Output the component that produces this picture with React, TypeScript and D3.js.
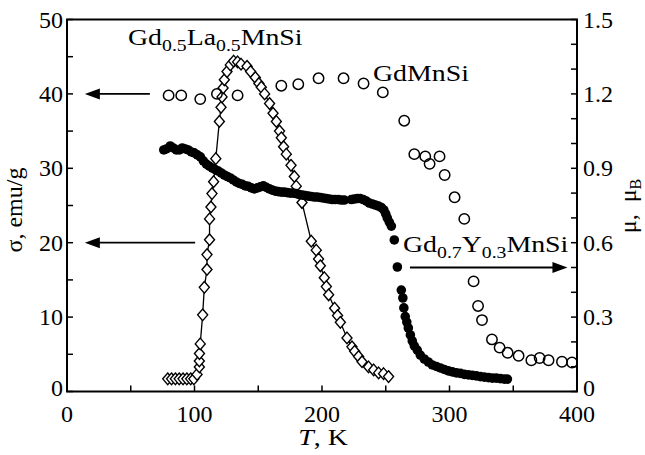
import React from "react";
import * as d3 from "d3";

// GdMnSi (open circles, left axis σ, emu/g)
const gdMnSi: [number, number][] = [
  [79.7, 39.8], [89.6, 39.8], [104.5, 39.3], [117.6, 40.0], [133.8, 39.8],
  [168.1, 41.1], [181.4, 41.3], [197.3, 42.1], [216.9, 42.1], [232.6, 41.4],
  [247.7, 40.2], [264.5, 36.4], [272.4, 31.9], [281.0, 31.6], [284.4, 30.6],
  [292.2, 31.6], [296.2, 29.1], [304.0, 26.1], [311.6, 23.2], [318.9, 14.8],
  [322.4, 11.5], [325.5, 9.6], [333.3, 7.0], [339.3, 5.9], [345.6, 5.2],
  [354.2, 4.8], [364.2, 4.2], [370.7, 4.5], [377.7, 4.2], [388.2, 4.0],
  [396.1, 3.9],
];

// Gd0.5La0.5MnSi (open diamonds joined by a line, left axis σ, emu/g)
const gdLaMnSi: [number, number][] = [
  [79, 1.7], [82, 1.7], [85, 1.7], [88, 1.7], [91, 1.7], [94, 1.7], [97, 1.7], [99.5, 1.7],
  [102, 2.3], [103.8, 3.3], [103.8, 4.1], [103.9, 5.1], [104.5, 6.4], [106.4, 10.3],
  [107.7, 14.0], [109.8, 16.4], [109.8, 18.4], [111.8, 20.4], [111.8, 23.2], [112.9, 24.8],
  [113.7, 26.6], [115.0, 28.2], [116.7, 31.3], [119.5, 36.3], [120.8, 38.2], [121.6, 39.6],
  [122.4, 40.8], [123.4, 41.9], [125.5, 43.0], [128.1, 43.9], [130.7, 44.4], [133.8, 44.3],
  [136.5, 44.0], [141.2, 43.7], [144.0, 43.0], [147.7, 42.2], [150.5, 41.4], [152.4, 40.9],
  [155.0, 40.0], [158.9, 38.7], [161.6, 37.4], [164.2, 36.3], [166.7, 35.0], [168.1, 34.1],
  [169.9, 32.9], [172.0, 31.9], [175.7, 30.4], [178.3, 28.9], [179.8, 27.6], [184.3, 25.4],
  [191.6, 20.2], [195.5, 19.0], [197.3, 17.8], [198.7, 16.9], [201.8, 15.3], [203.4, 14.1],
  [205.2, 13.0], [209.9, 11.2], [212.2, 10.2], [214.4, 9.3], [219.6, 7.2], [223.5, 6.0],
  [225.6, 5.4], [228.7, 4.7], [231.4, 4.0], [236.5, 3.3], [240.5, 2.9], [244.4, 2.5],
  [248.3, 2.4], [252.2, 2.0],
];

// Gd0.7Y0.3MnSi (filled circles, right axis μ, μB)
const gdYMnSi: [number, number][] = [
  [75.9, 0.974], [77.9, 0.978], [81.0, 0.990], [83.4, 0.982], [85.7, 0.974], [88.1, 0.974],
  [90.4, 0.982], [92.8, 0.978], [95.1, 0.974], [97.5, 0.966], [99.8, 0.962], [102.2, 0.954],
  [104.6, 0.946], [106.9, 0.930], [109.3, 0.917], [111.6, 0.909], [114.0, 0.901], [116.3, 0.895],
  [118.7, 0.889], [121.0, 0.881], [123.4, 0.873], [125.7, 0.867], [128.1, 0.861], [130.4, 0.853],
  [132.8, 0.845], [135.1, 0.839], [137.5, 0.835], [139.9, 0.829], [142.2, 0.827], [144.6, 0.821],
  [146.9, 0.817], [149.3, 0.821], [151.6, 0.825], [154.0, 0.829], [156.3, 0.823], [158.7, 0.817],
  [161.0, 0.812], [163.4, 0.808], [165.7, 0.806], [168.1, 0.804], [170.4, 0.804], [172.8, 0.802],
  [175.1, 0.800], [177.5, 0.800], [179.9, 0.798], [182.2, 0.794], [184.6, 0.792], [186.9, 0.790],
  [189.3, 0.788], [191.6, 0.786], [194.0, 0.784], [196.3, 0.784], [198.7, 0.782], [201.0, 0.780],
  [203.4, 0.778], [205.7, 0.776], [208.1, 0.774], [210.4, 0.774], [212.8, 0.774], [215.1, 0.772],
  [217.5, 0.772], [223.0, 0.774], [225.3, 0.776], [227.7, 0.778], [230.0, 0.778], [232.4, 0.774],
  [234.8, 0.768], [237.1, 0.760], [239.5, 0.756], [241.8, 0.752], [244.2, 0.748], [246.5, 0.742],
  [248.5, 0.732], [250.0, 0.716], [251.2, 0.700], [252.8, 0.683], [254.4, 0.667], [256.7, 0.611],
  [259.1, 0.502], [262.2, 0.409], [263.4, 0.377], [264.2, 0.337], [265.3, 0.302], [266.5, 0.280],
  [267.7, 0.256], [269.3, 0.228], [270.8, 0.204], [272.4, 0.184], [274.7, 0.167], [277.1, 0.147],
  [280.2, 0.131], [283.4, 0.119], [286.5, 0.107], [289.7, 0.101], [292.8, 0.095], [295.9, 0.089],
  [299.1, 0.083], [302.2, 0.079], [305.4, 0.075], [308.5, 0.073], [311.6, 0.069], [314.8, 0.067],
  [317.9, 0.065], [321.0, 0.063], [324.2, 0.060], [327.3, 0.058], [330.5, 0.056], [333.6, 0.054],
  [336.7, 0.054], [339.9, 0.052], [343.0, 0.050], [345.4, 0.050],
];

const xTicks = [0, 50, 100, 150, 200, 250, 300, 350, 400];
const xTickLabels = ["0", "100", "200", "300", "400"];
const yLeftTicks = [0, 5, 10, 15, 20, 25, 30, 35, 40, 45, 50];
const yLeftLabels = ["0", "10", "20", "30", "40", "50"];
const yRightTicks = [0, 0.1, 0.2, 0.3, 0.4, 0.5, 0.6, 0.7, 0.8, 0.9, 1.0, 1.1, 1.2, 1.3, 1.4, 1.5];
const yRightLabels = ["0", "0.3", "0.6", "0.9", "1.2", "1.5"];

const FONT = "'Liberation Serif', 'Times New Roman', serif";

export default function App() {
  const x = d3.scaleLinear().domain([0, 400]).range([67, 577]);
  const yL = d3.scaleLinear().domain([0, 50]).range([391.5, 19.5]);
  const yR = d3.scaleLinear().domain([0, 1.5]).range([391.5, 19.5]);

  const line = d3.line<[number, number]>().x((d) => x(d[0])).y((d) => yL(d[1]));
  const tick = 6;

  const arrow = (x1: number, x2: number, y: number, key: string) => {
    const dir = Math.sign(x2 - x1);
    const hl = 15;
    const hw = 5.5;
    return (
      <g key={key}>
        <line x1={x1} x2={x2 - dir * hl * 0.8} y1={y} y2={y} stroke="#000" strokeWidth={1.8} />
        <path d={`M${x2},${y} L${x2 - dir * hl},${y - hw} L${x2 - dir * hl},${y + hw} Z`} fill="#000" />
      </g>
    );
  };

  const sx = 1.16;
  const zeroLift = (s: string) => (s === "0" ? -4 : 0);

  return (
    <svg
      width={645}
      height={455}
      style={{ position: "absolute", left: 0, top: 0, background: "#fff" }}
      fontFamily={FONT}
    >
      <rect x={0} y={0} width={645} height={455} fill="#fff" />

      {/* ticks */}
      {xTicks.map((t) => (
        <line key={"xt" + t} x1={x(t)} x2={x(t)} y1={yL(0)} y2={yL(0) - tick} stroke="#000" strokeWidth={1.5} />
      ))}
      {yLeftTicks.map((t) => (
        <line key={"yl" + t} x1={x(0)} x2={x(0) + tick} y1={yL(t)} y2={yL(t)} stroke="#000" strokeWidth={1.5} />
      ))}
      {yRightTicks.map((t) => (
        <line key={"yr" + t} x1={x(400)} x2={x(400) - tick} y1={yR(t)} y2={yR(t)} stroke="#000" strokeWidth={1.5} />
      ))}

      {/* tick labels */}
      {xTickLabels.map((s) => (
        <text key={"xl" + s} x={x(+s)} y={421.5} fontSize={24} textAnchor="middle">
          {s}
        </text>
      ))}
      {yLeftLabels.map((s) => (
        <text key={"yll" + s} x={63} y={yL(+s) + zeroLift(s)} dy="0.34em" fontSize={24} textAnchor="end">
          {s}
        </text>
      ))}
      {yRightLabels.map((s) => (
        <text key={"yrl" + s} x={583} y={yR(+s) + zeroLift(s)} dy="0.34em" fontSize={24} textAnchor="start">
          {s}
        </text>
      ))}

      {/* axis titles */}
      <text x={323} y={445} fontSize={24} textAnchor="middle" transform={`translate(323,0) scale(${sx},1) translate(-323,0)`}>
        <tspan fontStyle="italic">T</tspan>, K
      </text>
      <text transform="translate(22,210) rotate(-90)" fontSize={24} textAnchor="middle">
        σ, emu/g
      </text>
      <text transform="translate(636,206) rotate(-90)" fontSize={24} textAnchor="middle">
        μ,&#160;&#160;μ<tspan fontSize={16} dy={5}>B</tspan>
      </text>

      {/* La series line + diamonds */}
      <path d={line(gdLaMnSi) || ""} fill="none" stroke="#000" strokeWidth={1.3} />
      {gdLaMnSi.map((d, i) => {
        const cx = x(d[0]);
        const cy = yL(d[1]);
        return (
          <path
            key={"dm" + i}
            d={`M${cx},${cy - 5.8} L${cx + 5},${cy} L${cx},${cy + 5.8} L${cx - 5},${cy} Z`}
            fill="#fff"
            stroke="#000"
            strokeWidth={1.4}
          />
        );
      })}

      {/* GdMnSi open circles */}
      {gdMnSi.map((d, i) => (
        <circle key={"oc" + i} cx={x(d[0])} cy={yL(d[1])} r={5.2} fill="none" stroke="#000" strokeWidth={1.5} />
      ))}

      {/* Gd0.7Y0.3MnSi filled circles */}
      {gdYMnSi.map((d, i) => (
        <circle key={"fc" + i} cx={x(d[0])} cy={yR(d[1])} r={4.8} fill="#000" />
      ))}

      {/* frame */}
      <rect x={x(0)} y={yL(50)} width={x(400) - x(0)} height={yL(0) - yL(50)} fill="none" stroke="#000" strokeWidth={2} />

      {/* arrows */}
      {arrow(x(65), x(14), yL(40), "a1")}
      {arrow(x(100.5), x(14), yL(20), "a2")}
      {arrow(x(269), x(392.5), yR(0.5), "a3")}

      {/* series labels */}
      <g transform={`translate(128,45) scale(${sx},1)`}>
        <text x={0} y={0} fontSize={24}>
          Gd<tspan fontSize={17} dy={6}>0.5</tspan>
          <tspan dy={-6}>La</tspan>
          <tspan fontSize={17} dy={6}>0.5</tspan>
          <tspan dy={-6}>MnSi</tspan>
        </text>
      </g>
      <g transform={`translate(373,81) scale(${sx},1)`}>
        <text x={0} y={0} fontSize={24}>GdMnSi</text>
      </g>
      <g transform={`translate(403,252) scale(${sx},1)`}>
        <text x={0} y={0} fontSize={24}>
          Gd<tspan fontSize={17} dy={6}>0.7</tspan>
          <tspan dy={-6}>Y</tspan>
          <tspan fontSize={17} dy={6}>0.3</tspan>
          <tspan dy={-6}>MnSi</tspan>
        </text>
      </g>
    </svg>
  );
}
